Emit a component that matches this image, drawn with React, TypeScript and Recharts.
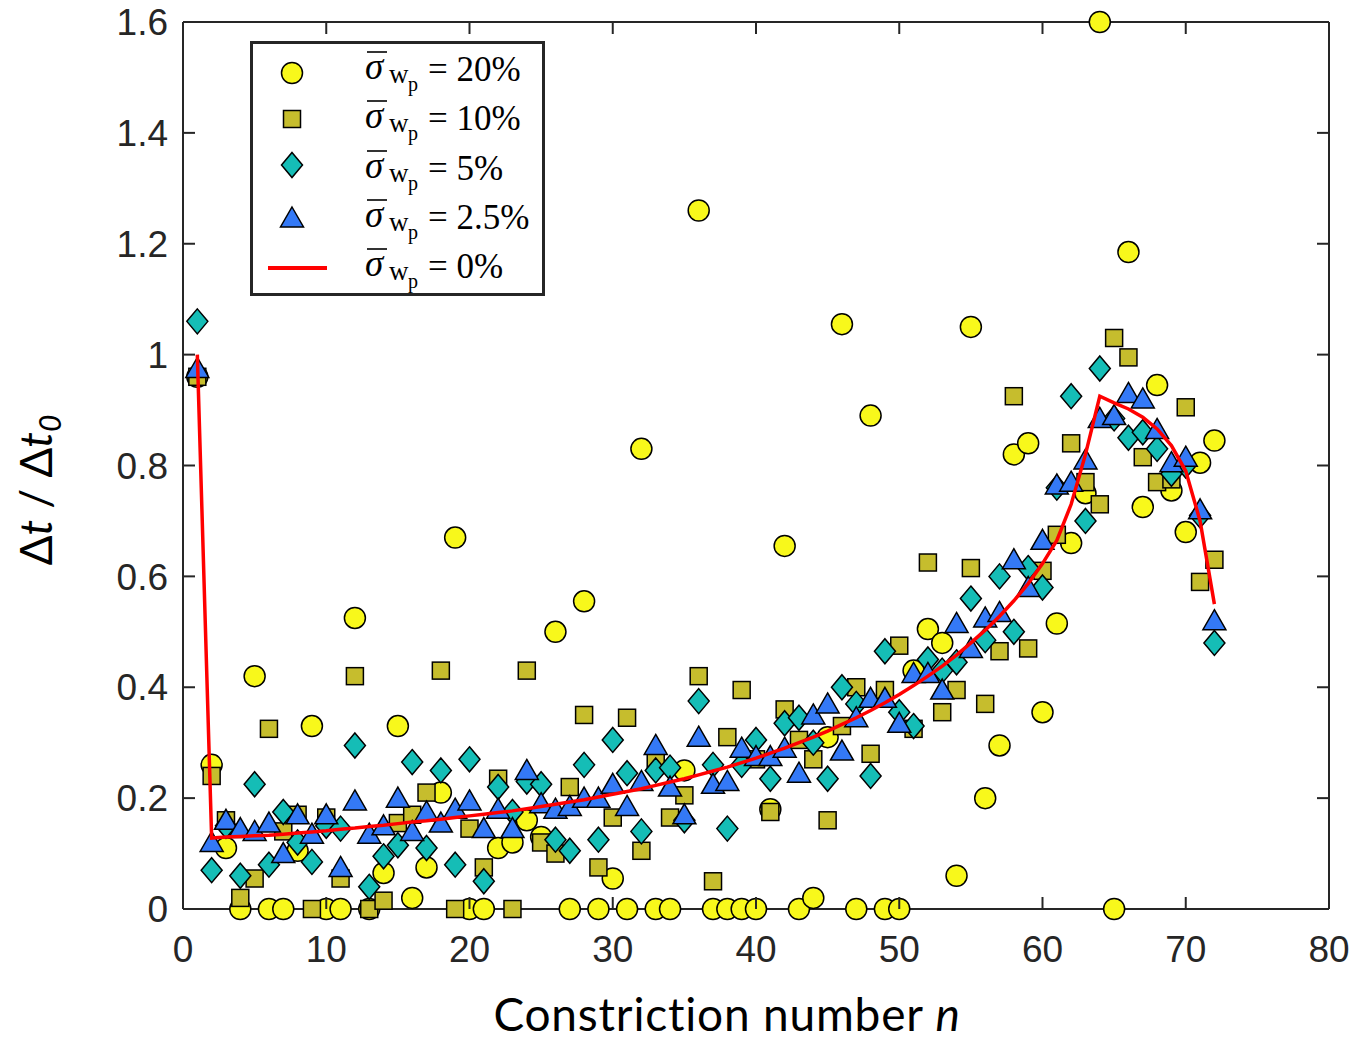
import React from "react";
import {
  ComposedChart,
  Label,
  Legend,
  Line,
  Scatter,
  XAxis,
  YAxis,
} from "recharts";

// constriction index n = 1..72
const N = Array.from({ length: 72 }, (_, i) => i + 1);

const SIGMA_20 = [
  0.96, 0.26, 0.11, 0, 0.42, 0, 0, 0.105, 0.33, 0, 0, 0.525, 0, 0.065, 0.33,
  0.02, 0.075, 0.21, 0.67, 0, 0, 0.11, 0.12, 0.16, 0.13, 0.5, 0, 0.555, 0,
  0.055, 0, 0.83, 0, 0, 0.25, 1.26, 0, 0, 0, 0, 0.18, 0.655, 0, 0.02, 0.31,
  1.055, 0, 0.89, 0, 0, 0.43, 0.505, 0.48, 0.06, 1.05, 0.2, 0.295, 0.82, 0.84,
  0.355, 0.515, 0.66, 0.75, 1.6, 0, 1.185, 0.725, 0.945, 0.755, 0.68, 0.805,
  0.845,
];

const SIGMA_10 = [
  0.96, 0.24, 0.16, 0.02, 0.055, 0.325, 0.14, 0.17, 0, 0.165, 0.055, 0.42, 0,
  0.015, 0.155, 0.17, 0.21, 0.43, 0, 0.145, 0.075, 0.235, 0, 0.43, 0.12, 0.1,
  0.22, 0.35, 0.075, 0.165, 0.345, 0.105, 0.27, 0.165, 0.205, 0.42, 0.05,
  0.31, 0.395, 0.27, 0.175, 0.36, 0.305, 0.27, 0.16, 0.33, 0.4, 0.28, 0.395,
  0.475, 0.325, 0.625, 0.355, 0.395, 0.615, 0.37, 0.465, 0.925, 0.47, 0.61,
  0.675, 0.84, 0.77, 0.73, 1.03, 0.995, 0.815, 0.77, 0.775, 0.905, 0.59, 0.63,
];

const SIGMA_5 = [
  1.06, 0.07, 0.15, 0.06, 0.225, 0.08, 0.175, 0.12, 0.085, 0.15, 0.145, 0.295,
  0.04, 0.095, 0.115, 0.265, 0.11, 0.25, 0.08, 0.27, 0.05, 0.22, 0.175, 0.23,
  0.225, 0.125, 0.105, 0.26, 0.125, 0.305, 0.245, 0.14, 0.25, 0.255, 0.16,
  0.375, 0.26, 0.145, 0.26, 0.305, 0.235, 0.335, 0.345, 0.3, 0.235, 0.4, 0.37,
  0.24, 0.465, 0.355, 0.33, 0.45, 0.43, 0.445, 0.56, 0.485, 0.6, 0.5, 0.615,
  0.58, 0.76, 0.925, 0.7, 0.975, 0.885, 0.85, 0.86, 0.83, 0.785, 0.8, 0.71,
  0.48,
];

const SIGMA_25 = [
  0.975, 0.12, 0.16, 0.145, 0.14, 0.155, 0.1, 0.17, 0.135, 0.17, 0.075, 0.195,
  0.135, 0.15, 0.2, 0.14, 0.175, 0.155, 0.18, 0.195, 0.145, 0.18, 0.145, 0.25,
  0.19, 0.18, 0.185, 0.2, 0.2, 0.225, 0.185, 0.23, 0.295, 0.22, 0.17, 0.31,
  0.225, 0.23, 0.29, 0.275, 0.275, 0.29, 0.245, 0.35, 0.37, 0.285, 0.345,
  0.38, 0.38, 0.335, 0.425, 0.425, 0.395, 0.515, 0.47, 0.525, 0.535, 0.63,
  0.58, 0.665, 0.765, 0.77, 0.81, 0.885, 0.89, 0.93, 0.92, 0.865, 0.805, 0.815,
  0.72, 0.52,
];

const SIGMA_0 = [
  1.0, 0.128, 0.13, 0.131, 0.132, 0.133, 0.135, 0.137, 0.139, 0.141, 0.144,
  0.146, 0.149, 0.151, 0.154, 0.157, 0.159, 0.162, 0.165, 0.168, 0.171, 0.174,
  0.177, 0.181, 0.185, 0.189, 0.193, 0.197, 0.202, 0.207, 0.212, 0.217, 0.223,
  0.229, 0.235, 0.242, 0.249, 0.256, 0.264, 0.272, 0.281, 0.29, 0.3, 0.31,
  0.321, 0.333, 0.345, 0.358, 0.372, 0.387, 0.403, 0.42, 0.438, 0.458, 0.48,
  0.503, 0.528, 0.556, 0.587, 0.623, 0.665, 0.73, 0.82, 0.925, 0.913, 0.902,
  0.887, 0.866, 0.836, 0.79, 0.7, 0.55,
];

const X_TICKS = [0, 10, 20, 30, 40, 50, 60, 70, 80];
const Y_TICKS = [0, 0.2, 0.4, 0.6, 0.8, 1, 1.2, 1.4, 1.6];
const LEGEND_VALUES = ["20%", "10%", "5%", "2.5%", "0%"];

const rows = (vals: number[]) => N.map((n, i) => ({ n, v: vals[i] }));

const AXIS = "#262626";
const TICK_LEN = 12;
const X_GAP = 27;
const Y_GAP = 15;
const TICK_FONT = "'Liberation Sans', Arial, sans-serif";
const LABEL_FONT = "Lato, 'Open Sans', sans-serif";
const MATH_FONT = "'Liberation Serif', 'DejaVu Serif', serif";

const C_YELLOW = "#f8f81b";
const C_OLIVE = "#c6bd2d";
const C_TEAL = "#15bdb6";
const C_BLUE = "#3479f6";
const C_RED = "#ff0000";

const Circ = ({ cx, cy }: any) => (
  <circle cx={cx} cy={cy} r={10.5} fill={C_YELLOW} stroke="#000" strokeWidth={1.5} />
);
const Sq = ({ cx, cy }: any) => (
  <rect x={cx - 8.5} y={cy - 8.5} width={17} height={17} fill={C_OLIVE} stroke="#000" strokeWidth={1.5} />
);
const Dia = ({ cx, cy }: any) => (
  <polygon
    points={`${cx},${cy - 12.5} ${cx + 10.5},${cy} ${cx},${cy + 12.5} ${cx - 10.5},${cy}`}
    fill={C_TEAL}
    stroke="#000"
    strokeWidth={1.5}
  />
);
const Tri = ({ cx, cy }: any) => (
  <polygon
    points={`${cx},${cy - 11} ${cx + 11.5},${cy + 9} ${cx - 11.5},${cy + 9}`}
    fill={C_BLUE}
    stroke="#000"
    strokeWidth={1.5}
  />
);

const BottomTick = ({ x, y, payload }: any) => (
  <g>
    <line x1={x} x2={x} y1={y - X_GAP} y2={y - X_GAP - TICK_LEN} stroke={AXIS} strokeWidth={2} />
    <text x={x} y={y} dy="0.71em" textAnchor="middle" fontSize={37} fontFamily={TICK_FONT} fill={AXIS}>
      {payload.value}
    </text>
  </g>
);

const LeftTick = ({ x, y, payload }: any) => (
  <g>
    <line x1={x + Y_GAP} x2={x + Y_GAP + TICK_LEN} y1={y} y2={y} stroke={AXIS} strokeWidth={2} />
    <text x={x} y={y} dy="0.355em" textAnchor="end" fontSize={37} fontFamily={TICK_FONT} fill={AXIS}>
      {payload.value}
    </text>
  </g>
);

// top / right axes: box edge plus inward ticks only
const TopTick = ({ x, y }: any) => (
  <line x1={x} x2={x} y1={y} y2={y + TICK_LEN} stroke={AXIS} strokeWidth={2} />
);

const RightTick = ({ x, y }: any) => (
  <line x1={x} x2={x - TICK_LEN} y1={y} y2={y} stroke={AXIS} strokeWidth={2} />
);

const XTitle = () => (
  <text
    x={727}
    y={1031}
    textAnchor="middle"
    fontSize={46}
    letterSpacing={0.8}
    fontFamily={LABEL_FONT}
    fill="#000"
  >
    Constriction number <tspan fontStyle="italic">n</tspan>
  </text>
);

const YTitle = () => (
  <text
    transform="translate(52,490) rotate(-90)"
    textAnchor="middle"
    fontSize={44}
    fontFamily={LABEL_FONT}
    fill="#000"
  >
    Δ<tspan fontStyle="italic">t</tspan> / Δ<tspan fontStyle="italic">t</tspan>
    <tspan fontStyle="italic" fontSize={30} dy={9}>0</tspan>
  </text>
);

const LegendBox = () => {
  const markerY = [32, 78, 124, 177, 227];
  const baseY = [38, 87, 137, 186, 235];
  const markers = [Circ, Sq, Dia, Tri];
  return (
    <svg width={296} height={256} style={{ display: "block" }}>
      <rect x={1.5} y={1.5} width={292} height={252} fill="#fff" stroke={AXIS} strokeWidth={3} />
      {LEGEND_VALUES.map((val, i) => {
        const M = markers[i];
        const b = baseY[i];
        return (
          <g key={val}>
            {M ? (
              <M cx={42} cy={markerY[i]} />
            ) : (
              <line x1={18} x2={77} y1={markerY[i]} y2={markerY[i]} stroke={C_RED} strokeWidth={4} />
            )}
            <g fontFamily={MATH_FONT} fill="#000">
              <line x1={117} x2={137} y1={b - 27} y2={b - 27} stroke="#000" strokeWidth={1.6} />
              <text x={115} y={b} fontSize={37} fontStyle="italic">σ</text>
              <text x={139} y={b + 4} fontSize={27}>w</text>
              <text x={158} y={b + 12} fontSize={20}>p</text>
              <text x={178} y={b + 2} fontSize={35}>= {val}</text>
            </g>
          </g>
        );
      })}
    </svg>
  );
};

export default function App() {
  return (
    <div style={{ position: "absolute", left: 0, top: 0, background: "#fff" }}>
      <ComposedChart
        width={1355}
        height={1042}
        margin={{ top: 21, right: 25, bottom: 0, left: 0 }}
      >
        <XAxis
          dataKey="n"
          type="number"
          domain={[0, 80]}
          ticks={X_TICKS}
          height={133}
          tickSize={0}
          tickMargin={X_GAP}
          tick={BottomTick}
          axisLine={{ stroke: AXIS, strokeWidth: 2 }}
        >
          <Label content={XTitle} />
        </XAxis>
        <YAxis
          type="number"
          domain={[0, 1.6]}
          ticks={Y_TICKS}
          width={183}
          tickSize={0}
          tickMargin={Y_GAP}
          tick={LeftTick}
          axisLine={{ stroke: AXIS, strokeWidth: 2 }}
        >
          <Label content={YTitle} />
        </YAxis>
        <XAxis
          xAxisId="top"
          dataKey="n"
          orientation="top"
          type="number"
          domain={[0, 80]}
          ticks={X_TICKS}
          height={1}
          tickSize={0}
          tickMargin={0}
          tick={TopTick}
          axisLine={{ stroke: AXIS, strokeWidth: 2 }}
        />
        <YAxis
          yAxisId="right"
          orientation="right"
          type="number"
          domain={[0, 1.6]}
          ticks={Y_TICKS}
          width={1}
          tickSize={0}
          tickMargin={0}
          tick={RightTick}
          axisLine={{ stroke: AXIS, strokeWidth: 2 }}
        />
        <Legend
          layout="vertical"
          align="center"
          verticalAlign="middle"
          content={LegendBox}
          wrapperStyle={{ left: 250, top: 41, width: 296, height: 256 }}
        />
        <Scatter data={rows(SIGMA_20)} dataKey="v" shape={Circ} isAnimationActive={false} />
        <Scatter data={rows(SIGMA_10)} dataKey="v" shape={Sq} isAnimationActive={false} />
        <Scatter data={rows(SIGMA_5)} dataKey="v" shape={Dia} isAnimationActive={false} />
        <Scatter data={rows(SIGMA_25)} dataKey="v" shape={Tri} isAnimationActive={false} />
        <Line
          data={rows(SIGMA_0)}
          xAxisId="top"
          yAxisId="right"
          dataKey="v"
          type="linear"
          stroke={C_RED}
          strokeWidth={3.5}
          dot={false}
          activeDot={false}
          isAnimationActive={false}
          zIndex={1000}
        />
      </ComposedChart>
    </div>
  );
}
